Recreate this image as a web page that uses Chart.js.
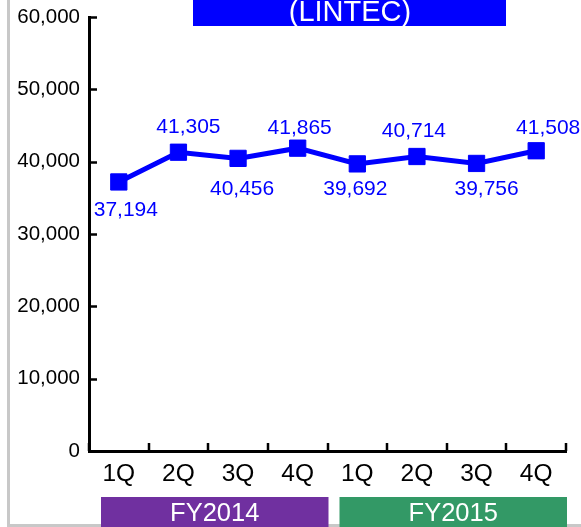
<!DOCTYPE html>
<html>
<head>
<meta charset="utf-8">
<script src="https://cdn.jsdelivr.net/npm/chart.js@4/dist/chart.umd.min.js"></script>
<style>
  html, body { margin: 0; padding: 0; background: #fff; overflow: hidden; }
  #wrap { position: relative; width: 581px; height: 527px; }
</style>
</head>
<body>
<div id="wrap"><canvas id="c" width="581" height="527"></canvas></div>
<script>
// Quarterly net sales (million yen)
const quarters = ['1Q', '2Q', '3Q', '4Q', '1Q', '2Q', '3Q', '4Q'];
const sales = [37194, 41305, 40456, 41865, 39692, 40714, 39756, 41508];
const yTickValues = [0, 10000, 20000, 30000, 40000, 50000, 60000];
const fiscalYears = ['FY2014', 'FY2015'];
const quartersPerYear = [4, 4];
const titleText = '(LINTEC)';

// Styling
const FONT = '"Liberation Sans", Arial, Helvetica, sans-serif';
const LINE_BLUE = '#0000ff';
const yearColors = ['#7030a0', '#339966'];
// value label offset from its point centre [dx, dy]
const labelOffsets = [[7, 28], [10, -25], [4, 31], [2, -20], [-2, 25], [-3, -25], [10, 26], [12, -23]];

const fmt = v => v.toLocaleString('en-US');

// Page frame, title band, inward tick marks, value labels, fiscal-year bands
const decorations = {
  id: 'decorations',
  beforeDraw(chart) {
    const ctx = chart.ctx;
    ctx.save();
    ctx.fillStyle = '#c8c8c8';
    ctx.fillRect(7, 0, 3, 527);
    ctx.fillRect(7, 524, 574, 3);
    ctx.restore();
  },
  afterDraw(chart) {
    const ctx = chart.ctx;
    const xs = chart.scales.x, ys = chart.scales.y;
    const area = chart.chartArea;
    ctx.save();

    // inward tick marks
    ctx.strokeStyle = '#000';
    ctx.lineWidth = 2.5;
    const half = (xs.getPixelForValue(1) - xs.getPixelForValue(0)) / 2;
    ctx.beginPath();
    yTickValues.forEach(v => {
      const y = Math.round(ys.getPixelForValue(v)) + 0.5;
      ctx.moveTo(area.left, y);
      ctx.lineTo(area.left + 8, y);
    });
    for (let i = 0; i <= quarters.length; i++) {
      const x = Math.round(xs.getPixelForValue(i) - half);
      ctx.moveTo(x, area.bottom);
      ctx.lineTo(x, area.bottom - 8);
    }
    ctx.stroke();

    // value labels
    const meta = chart.getDatasetMeta(0);
    ctx.fillStyle = LINE_BLUE;
    ctx.font = '21px ' + FONT;
    ctx.textAlign = 'center';
    ctx.textBaseline = 'middle';
    meta.data.forEach((pt, i) => {
      const [dx, dy] = labelOffsets[i];
      ctx.fillText(fmt(sales[i]), pt.x + dx, pt.y + dy);
    });

    // fiscal-year bands under the quarter labels
    let start = 0;
    fiscalYears.forEach((fy, k) => {
      const end = start + quartersPerYear[k] - 1;
      const left = xs.getPixelForValue(start) - half + 12;
      const right = xs.getPixelForValue(end) + half + 1;
      ctx.fillStyle = yearColors[k];
      ctx.fillRect(left, 497, right - left, 30);
      ctx.fillStyle = '#fff';
      ctx.font = '25.5px ' + FONT;
      ctx.textAlign = 'center';
      ctx.textBaseline = 'alphabetic';
      ctx.fillText(fy, (left + right) / 2, 521);
      start = end + 1;
    });

    // title band
    ctx.fillStyle = LINE_BLUE;
    ctx.fillRect(193, 0, 313, 26);
    ctx.fillStyle = '#fff';
    ctx.font = '29px ' + FONT;
    ctx.textAlign = 'center';
    ctx.textBaseline = 'alphabetic';
    ctx.fillText(titleText, 350, 21);

    ctx.restore();
  }
};

new Chart(document.getElementById('c'), {
  type: 'line',
  data: {
    labels: quarters,
    datasets: [{
      data: sales,
      borderColor: LINE_BLUE,
      backgroundColor: LINE_BLUE,
      borderWidth: 5,
      pointStyle: 'rect',
      pointRadius: 11.5,
      pointBorderWidth: 1,
      pointBackgroundColor: LINE_BLUE,
      pointBorderColor: LINE_BLUE,
      tension: 0,
      fill: false
    }]
  },
  options: {
    responsive: false,
    animation: false,
    devicePixelRatio: 1,
    layout: { padding: { top: 17, right: 15, left: 0, bottom: 0 } },
    plugins: {
      legend: { display: false },
      title: { display: false },
      tooltip: { enabled: false }
    },
    scales: {
      x: {
        type: 'category',
        offset: true,
        grid: { display: false, drawTicks: false },
        border: { display: true, color: '#000', width: 3 },
        ticks: {
          color: '#000',
          font: { family: FONT, size: 24.5 },
          padding: 9,
          maxRotation: 0,
          autoSkip: false
        },
        afterFit(scale) {
          scale.height = 76;
          scale.paddingLeft = 0;
          scale.paddingRight = 0;
        }
      },
      y: {
        min: 0,
        max: 60000,
        grid: { display: false, drawTicks: false },
        border: { display: true, color: '#000', width: 3 },
        afterBuildTicks(scale) { scale.ticks = yTickValues.map(v => ({ value: v })); },
        ticks: {
          color: '#000',
          font: { family: FONT, size: 20.5 },
          padding: 9,
          callback: v => fmt(v)
        },
        afterFit(scale) {
          scale.width = 89;
          scale.paddingTop = 0;
          scale.paddingBottom = 0;
        }
      }
    }
  },
  plugins: [decorations]
});
</script>
</body>
</html>
